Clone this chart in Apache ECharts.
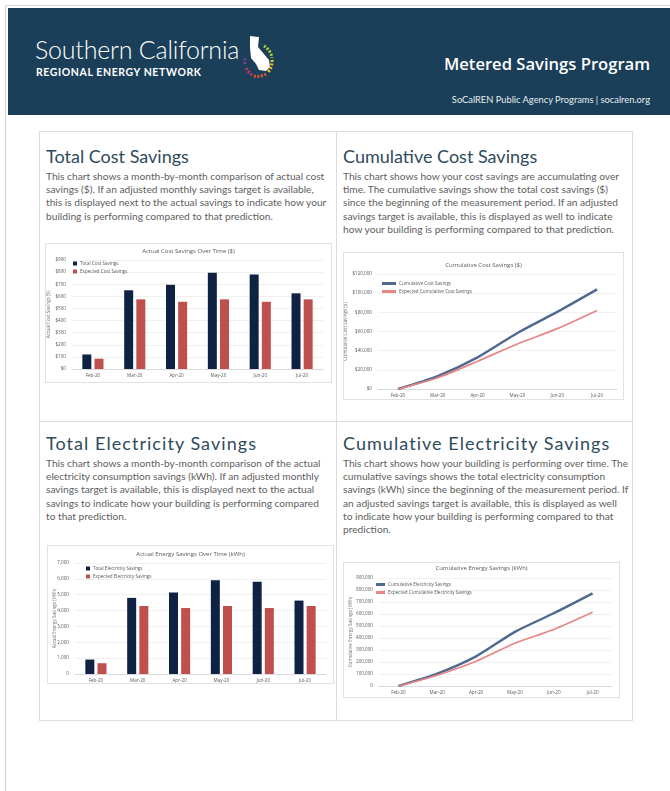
<!DOCTYPE html>
<html>
<head>
<meta charset="utf-8">
<script src="https://cdn.jsdelivr.net/npm/echarts@6/dist/echarts.min.js"></script>
<style>
    body { margin: 0; background: #fff; font-family: Lato, "Open Sans", sans-serif; }
    #page { position: relative; width: 670px; height: 791px; overflow: hidden; }
    .edge { position: absolute; left: 5px; top: 5px; width: 700px; height: 800px;
        border-left: 1px solid #cfcfcf; border-top: 1px solid #d8d8d8; }
    #header { position: absolute; left: 8px; top: 8px; width: 662px; height: 107px; background: #1b3f58; }
    .brand1 { position: absolute; left: 27px; top: 26px; color: #fff; font-size: 25px; font-weight: 300;
        letter-spacing: -0.2px; white-space: nowrap; }
    .brand2 { position: absolute; left: 28px; top: 58px; color: #fff; font-size: 10.5px; font-weight: 700;
        letter-spacing: 0.6px; white-space: nowrap; }
    .logo { position: absolute; left: 234px; top: 26px; }
    .prog { position: absolute; right: 20px; top: 44px; color: #fff; font-family: "Open Sans", sans-serif;
        font-size: 16.6px; font-weight: 600; white-space: nowrap; }
    .sub { position: absolute; right: 20px; top: 86px; color: #e6edf2; font-size: 9.3px; white-space: nowrap; }
    .cards { position: absolute; left: 39px; top: 131px; width: 592px; height: 588px; border: 1px solid #dcdcdc; }
    .vline { position: absolute; left: 336px; top: 131px; width: 1px; height: 590px; background: #dcdcdc; }
    .hline { position: absolute; left: 39px; top: 421px; width: 594px; height: 1px; background: #dcdcdc; }
    h2 { position: absolute; margin: 0; font-size: 18px; font-weight: 400; color: #2f4b5b; white-space: nowrap; }
    h2.wide { letter-spacing: 1.05px; }
    p { position: absolute; margin: 0; font-size: 10.2px; line-height: 13.2px; color: #5e5e5e; white-space: nowrap; }
    .chart { position: absolute; border: 1px solid #e2e2e2; box-sizing: border-box; }
</style>
</head>
<body>
<div id="page">
    <div class="edge"></div>
    <div id="header">
        <div class="brand1">Southern California</div>
        <div class="brand2">REGIONAL ENERGY NETWORK</div>
        <svg class="logo" width="40" height="52" viewBox="0 0 40 52">
            <path d="M8 2 L17 3 L16 13 L27 26 L28 33 L24 37 L17 36 L14 30 L9 24 L8 14 Z" fill="#fff"/>
            <path d="M22 12 A16 16 0 0 1 30 24" stroke="#b5d334" stroke-width="3" fill="none" stroke-dasharray="2 1.5"/>
            <path d="M30 26 A16 16 0 0 1 26 38" stroke="#f3c321" stroke-width="3" fill="none" stroke-dasharray="2 1.5"/>
            <path d="M24 40 A16 16 0 0 1 12 42" stroke="#e8562a" stroke-width="3" fill="none" stroke-dasharray="2 1.5"/>
            <path d="M10 41 A16 16 0 0 1 4 33" stroke="#d92c6a" stroke-width="3" fill="none" stroke-dasharray="2 1.5"/>
            <path d="M3 30 A16 16 0 0 1 3 24" stroke="#7a3f95" stroke-width="3" fill="none" stroke-dasharray="2 1.5"/>
        </svg>
        <div class="prog">Metered Savings Program</div>
        <div class="sub">SoCalREN Public Agency Programs | socalren.org</div>
    </div>

    <div class="cards"></div>
    <div class="vline"></div>
    <div class="hline"></div>

    <h2 style="left:46px; top:145px;">Total Cost Savings</h2>
    <p style="left:46px; top:170px;">This chart shows a month-by-month comparison of actual cost<br>savings ($). If an adjusted monthly savings target is available,<br>this is displayed next to the actual savings to indicate how your<br>building is performing compared to that prediction.</p>

    <h2 style="left:343px; top:145px;">Cumulative Cost Savings</h2>
    <p style="left:343px; top:170px;">This chart shows how your cost savings are accumulating over<br>time. The cumulative savings show the total cost savings ($)<br>since the beginning of the measurement period. If an adjusted<br>savings target is available, this is displayed as well to indicate<br>how your building is performing compared to that prediction.</p>

    <h2 class="wide" style="left:46px; top:432px;">Total Electricity Savings</h2>
    <p style="left:46px; top:457px;">This chart shows a month-by-month comparison of the actual<br>electricity consumption savings (kWh). If an adjusted monthly<br>savings target is available, this is displayed next to the actual<br>savings to indicate how your building is performing compared<br>to that prediction.</p>

    <h2 class="wide" style="left:343px; top:432px;">Cumulative Electricity Savings</h2>
    <p style="left:343px; top:457px;">This chart shows how your building is performing over time. The<br>cumulative savings shows the total electricity consumption<br>savings (kWh) since the beginning of the measurement period. If<br>an adjusted savings target is available, this is displayed as well<br>to indicate how your building is performing compared to that<br>prediction.</p>

    <div id="costBar" class="chart" style="left:45px; top:243px; width:287px; height:140px;"></div>
    <div id="costCum" class="chart" style="left:343px; top:252px; width:281px; height:148px;"></div>
    <div id="kwhBar" class="chart" style="left:47px; top:545px; width:287px; height:139px;"></div>
    <div id="kwhCum" class="chart" style="left:343px; top:562px; width:277px; height:136px;"></div>
</div>

<script>
    // 月份
    var months = ['Feb-20', 'Mar-20', 'Apr-20', 'May-20', 'Jun-20', 'Jul-20'];

    // 每月成本节省 ($)
    var costActual = [120, 650, 695, 795, 780, 625];
    var costExpected = [85, 575, 555, 575, 555, 575];

    // 累计成本节省 ($)
    var costCumActual = [0, 13500, 33000, 58500, 80500, 104000];
    var costCumExpected = [0, 11800, 29000, 47000, 63000, 82000];

    // 每月电量节省 (kWh)
    var kwhActual = [910, 4800, 5140, 5920, 5810, 4630];
    var kwhExpected = [680, 4290, 4160, 4290, 4160, 4290];

    // 累计电量节省 (kWh)
    var kwhCumActual = [0, 103000, 247000, 451000, 606000, 772000];
    var kwhCumExpected = [0, 90000, 206000, 356000, 471000, 614000];

    var NAVY = '#0f2244';
    var RED = '#c0504d';
    var LINE_BLUE = '#50698f';
    var LINE_RED = '#e88585';
    var GREY = '#595959';
    var FONT = '"Open Sans", sans-serif';

    function fmt(v) {
        return String(v).replace(/\B(?=(\d{3})+(?!\d))/g, ',');
    }

    function money(v) {
        return '$' + fmt(v);
    }

    /**
     * 公共配置：标题、坐标轴、图例
     */
    function baseOption(o) {
        return {
            animation: false,
            textStyle: {fontFamily: FONT},
            title: {
                text: o.title,
                left: 'center',
                top: o.titleTop,
                padding: 0,
                textStyle: {fontSize: 6, fontWeight: 'normal', color: GREY, fontFamily: FONT}
            },
            legend: {
                orient: 'vertical',
                left: o.legendLeft,
                top: o.legendTop,
                padding: 0,
                icon: 'rect',
                itemWidth: o.iconW,
                itemHeight: o.iconH,
                itemGap: 3,
                textStyle: {fontSize: 4.6, color: GREY, padding: [0, 0, 0, -2]}
            },
            grid: {
                left: o.grid[0], right: o.grid[1], top: o.grid[2], bottom: o.grid[3],
                containLabel: false,
                outerBoundsMode: 'none'
            },
            xAxis: {
                type: 'category',
                data: months,
                boundaryGap: true,
                axisLine: {lineStyle: {color: '#d9d9d9'}},
                axisTick: {show: false},
                axisLabel: {fontSize: 4.6, color: GREY, margin: 4}
            },
            yAxis: {
                type: 'value',
                min: 0,
                max: o.max,
                interval: o.step,
                name: o.yName,
                nameLocation: 'middle',
                nameGap: o.nameGap,
                nameMoveOverlap: false,
                nameTextStyle: {fontSize: 4.6, color: '#707070'},
                axisLine: {show: false},
                axisTick: {show: false},
                splitLine: {lineStyle: {color: '#e6e6e6', width: 0.6}},
                axisLabel: {fontSize: 4.6, color: GREY, margin: 6, formatter: o.labelFmt}
            }
        };
    }

    function barChart(domId, o, actual, expected, names) {
        var option = baseOption(o);
        option.series = [
            {name: names[0], type: 'bar', data: actual, barWidth: 9, barGap: '35%',
                itemStyle: {color: NAVY}},
            {name: names[1], type: 'bar', data: expected, barWidth: 9,
                itemStyle: {color: RED}}
        ];
        echarts.init(document.getElementById(domId)).setOption(option);
    }

    function lineChart(domId, o, actual, expected, names) {
        var option = baseOption(o);
        option.series = [
            {name: names[0], type: 'line', data: actual, smooth: 0.25, showSymbol: false,
                lineStyle: {color: LINE_BLUE, width: 2.4}, itemStyle: {color: LINE_BLUE}},
            {name: names[1], type: 'line', data: expected, smooth: 0.25, showSymbol: false,
                lineStyle: {color: LINE_RED, width: 1.7}, itemStyle: {color: LINE_RED}}
        ];
        echarts.init(document.getElementById(domId)).setOption(option);
    }

    barChart('costBar', {
        title: 'Actual Cost Savings Over Time ($)', titleTop: 4,
        legendLeft: 27, legendTop: 17, iconW: 4, iconH: 4,
        grid: [26, 8, 16, 13], max: 900, step: 100,
        yName: 'Actual Cost Savings ($)', nameGap: 21, labelFmt: money
    }, costActual, costExpected, ['Total Cost Savings', 'Expected Cost Savings']);

    lineChart('costCum', {
        title: 'Cumulative Cost Savings ($)', titleTop: 9,
        legendLeft: 38, legendTop: 28, iconW: 14, iconH: 3,
        grid: [34, 6, 21, 10], max: 120000, step: 20000,
        yName: 'Cumulative Cost Savings ($)', nameGap: 30, labelFmt: money
    }, costCumActual, costCumExpected, ['Cumulative Cost Savings', 'Expected Cumulative Cost Savings']);

    barChart('kwhBar', {
        title: 'Actual Energy Savings Over Time (kWh)', titleTop: 5,
        legendLeft: 38, legendTop: 20, iconW: 4, iconH: 4,
        grid: [27, 7, 17, 9], max: 7000, step: 1000,
        yName: 'Actual Energy Savings (kWh)', nameGap: 18, labelFmt: fmt
    }, kwhActual, kwhExpected, ['Total Electricity Savings', 'Expected Electricity Savings']);

    lineChart('kwhCum', {
        title: 'Cumulative Energy Savings (kWh)', titleTop: 2,
        legendLeft: 32, legendTop: 19, iconW: 9, iconH: 3,
        grid: [35, 7, 15, 11], max: 900000, step: 100000,
        yName: 'Cumulative Energy Savings (kWh)', nameGap: 26, labelFmt: fmt
    }, kwhCumActual, kwhCumExpected, ['Cumulative Electricity Savings', 'Expected Cumulative Electricity Savings']);
</script>
</body>
</html>
